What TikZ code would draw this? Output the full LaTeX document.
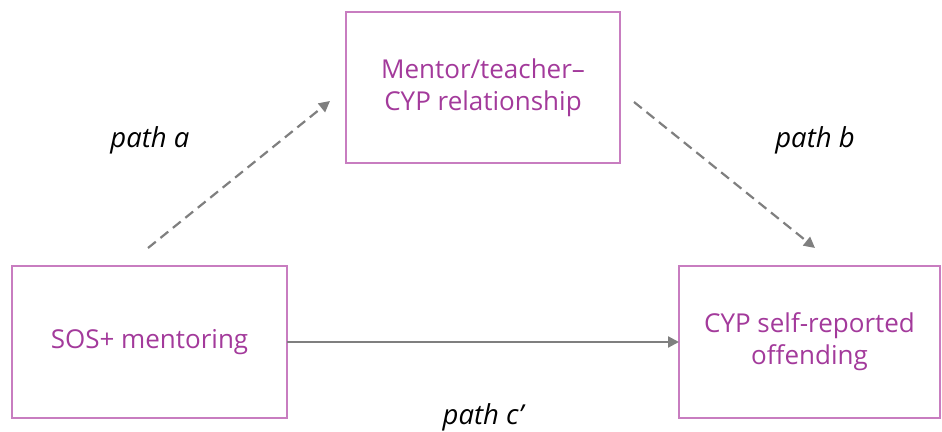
\documentclass[tikz,border=0pt]{standalone}
\usepackage{fontspec}
\setmainfont{Open Sans}
\usetikzlibrary{arrows.meta}
\definecolor{boxline}{HTML}{C87DC0}
\definecolor{boxtext}{HTML}{A33A9B}
\definecolor{arrowgray}{HTML}{7F7F7F}

\begin{document}
\begin{tikzpicture}[x=1pt, y=1pt,
  every node/.style = {align=center, inner sep=0pt, outer sep=0pt},
  varbox/.style = {shape=rectangle, draw=boxline, line width=1.2pt,
    text=boxtext, font=\fontsize{26}{32}\selectfont},
  pathlabel/.style = {font=\fontsize{27.5}{30}\selectfont\itshape},
  link/.style = {draw=arrowgray, line width=2.2pt,
    -{Triangle[length=11pt, width=11pt]}},
  dashlink/.style = {link, dash pattern=on 10pt off 6pt}]
    \useasboundingbox (0,0) rectangle (942,431);
    \node[varbox, minimum width=274pt, minimum height=151pt] (mediator) at (483,343.5)
        {Mentor/teacher--\\CYP relationship};
    \node[varbox, minimum width=275pt, minimum height=152pt] (mentoring) at (149.5,89)
        {SOS+ mentoring};
    \node[varbox, minimum width=261pt, minimum height=152pt] (offending) at (809.5,89)
        {CYP self-reported\\offending};
    \coordinate (a start) at (148,183);
    \coordinate (a end) at (330,330);
    \coordinate (b start) at (634,329);
    \coordinate (b end) at (815,183);
    \draw[dashlink] (a start) -- (a end);
    \draw[dashlink] (b start) -- (b end);
    \draw[link] (mentoring.east) -- (offending.west);
    \node[pathlabel] (label a) at (150,291) {path a};
    \node[pathlabel] (label b) at (815,291) {path b};
    \node[pathlabel, anchor=base] (label c) at (483,7) {path c’};
\end{tikzpicture}
\end{document}
